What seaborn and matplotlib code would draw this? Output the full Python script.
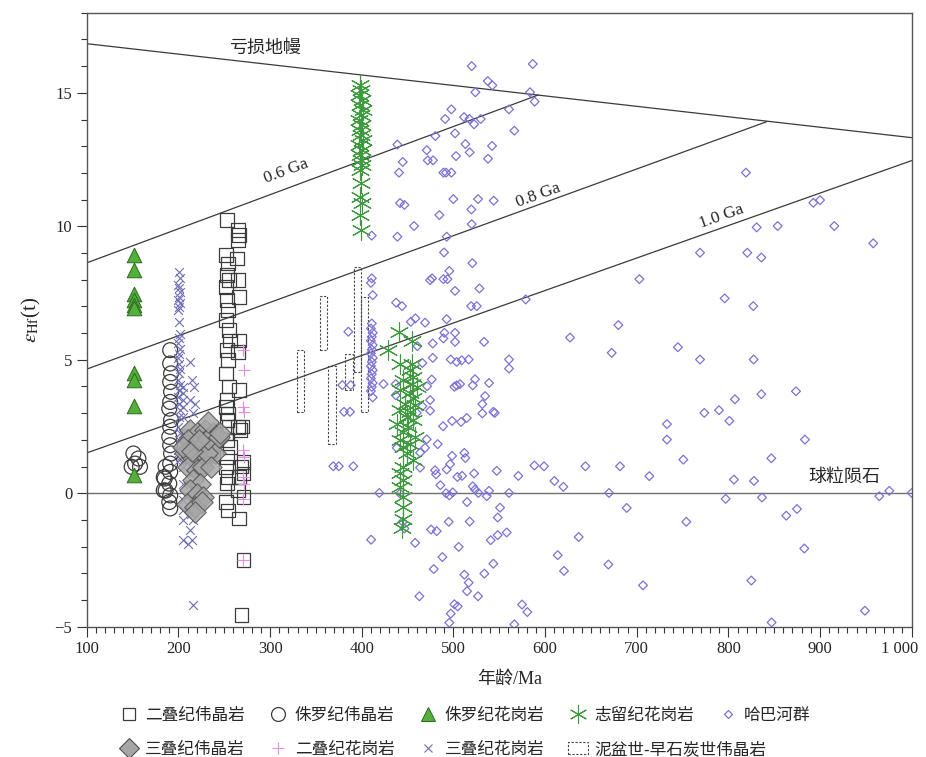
import numpy as np
import matplotlib
matplotlib.use("Agg")
import matplotlib.pyplot as plt
import seaborn as sns
from matplotlib.lines import Line2D
from matplotlib.patches import Patch
from matplotlib.font_manager import FontProperties
from matplotlib.transforms import ScaledTranslation

# ---- reference lines (age Ma, eHf) ----
dm_age = [100, 1000]
dm_eps = [16.84, 13.32]
ga06_age = [100, 592.7]
ga06_eps = [8.63, 14.92]
ga08_age = [100, 842]
ga08_eps = [4.65, 13.92]
ga10_age = [100, 1000]
ga10_eps = [1.51, 12.46]

# ---- 二叠纪伟晶岩 (squares) ----
perm_peg_age = [253, 252, 254, 253, 255, 252, 253, 254, 252, 255, 256, 253, 254, 252, 255,
                253, 252, 254, 253, 255, 252, 253, 256, 253, 252, 254, 253, 252, 254,
                265, 266, 265, 264, 265, 266, 266, 265, 266, 265, 267, 266, 265, 266, 269,
                271, 271, 271, 271, 270, 269]
perm_peg_eps = [10.23, 8.92, 8.61, 8.17, 7.98, 7.73, 7.23, 6.86, 6.48, 6.11, 5.73, 5.36, 4.99, 4.49, 3.99,
                3.49, 3.24, 2.99, 2.74, 2.49, 2.24, 1.99, 1.74, 1.36, 0.99, 0.61, 0.36, -0.32, -0.64,
                9.86, 9.67, 9.48, 8.80, 7.98, 7.36, 5.73, 5.30, 3.86, 2.49, 2.36, 0.61, 0.11, -0.95, -4.57,
                1.17, 0.74, -0.14, -2.50, 2.50, 1.00]

# ---- 侏罗纪伟晶岩 (circles) ----
jur_peg_age = [150.9, 156.3, 152.7, 158.1, 149.0,
               191, 191, 192, 191, 192, 191, 190, 192, 191, 190, 191, 192, 191, 186, 191,
               185, 190, 184, 191, 190, 191, 184, 186]
jur_peg_eps = [1.49, 1.30, 1.11, 0.99, 0.99,
               5.36, 4.86, 4.49, 4.17, 3.80, 3.42, 3.17, 2.74, 2.49, 2.11, 1.80, 1.49, 1.11, 0.99, 0.80,
               0.55, 0.36, 0.11, -0.08, -0.33, -0.57, 0.60, 0.10]

# ---- 侏罗纪花岗岩 (triangles) ----
jur_gra_age = [152, 152, 152, 152, 152, 152, 152, 152, 152, 152]
jur_gra_eps = [8.92, 8.36, 7.45, 7.25, 7.05, 6.95, 4.49, 4.24, 3.26, 0.67]

# ---- 志留纪花岗岩 (asterisks) ----
sil_gra_age = [398, 399, 397, 400, 398, 401, 399, 397, 400, 398, 399, 401, 397, 400, 398,
               399, 400, 398, 399, 398, 400, 398, 399,
               441.1, 455.3, 429.1, 441.8, 454.6, 452.7, 456.4, 445.5, 454.6, 460.0, 441.8, 452.7,
               456.4, 447.3, 458.2, 441.8, 452.7, 449.1, 438.2, 456.4, 450.9, 445.5, 458.2, 441.8,
               452.7, 445.5, 449.1, 456.4, 445.5, 441.8, 445.5, 441.8, 445.5, 445.5, 445.5, 443.7]
sil_gra_eps = [15.29, 15.10, 14.92, 14.73, 14.54, 14.36, 14.17, 13.98, 13.79, 13.61, 13.42, 13.23, 13.04, 12.86, 12.67,
               12.48, 12.29, 12.11, 11.61, 11.11, 10.86, 10.42, 9.86,
               6.05, 5.71, 5.36, 4.86, 4.86, 4.61, 4.36, 4.23, 4.11, 3.99, 3.86, 3.74,
               3.55, 3.36, 3.30, 3.11, 3.05, 2.86, 2.61, 2.74, 2.49, 2.30, 2.11, 1.99,
               1.86, 1.74, 1.49, 1.24, 0.99, 0.74, 0.49, 0.24, -0.14, -0.51, -0.95, -1.32]

# ---- 三叠纪伟晶岩 (grey diamonds) ----
tri_peg_age = [212.7, 220.0, 229.0, 238.1, 241.8, 210.9, 218.1, 225.4, 234.5, 207.2, 214.5, 223.6,
               230.9, 240.0, 210.9, 220.0, 227.2, 216.3, 223.6, 212.7, 220.0, 227.2, 209.1, 218.1,
               225.4, 230.9, 205.4, 232.7, 236.0, 215.0, 222.0, 244.0, 232.7, 245.4, 218.0]
tri_peg_eps = [2.36, 2.24, 2.36, 2.24, 1.99, 1.99, 1.80, 1.80, 1.67, 1.49, 1.36, 1.24,
               1.36, 1.49, 0.99, 0.86, 0.99, 0.49, 0.36, 0.11, -0.01, -0.14, -0.39, -0.51,
               -0.32, 1.49, 1.74, 2.05, 1.00, 1.60, 2.00, 2.10, 2.67, 2.24, -0.70]

# ---- 二叠纪花岗岩 (plus) ----
perm_gra_age = [271, 272, 271, 272, 271, 272, 271, 272, 271, 271]
perm_gra_eps = [5.36, 4.61, 3.24, 3.05, 1.61, 1.36, 0.61, 0.36, -0.20, -2.51]

# ---- 三叠纪花岗岩 (x) ----
tri_gra_age = [201, 202, 200, 201, 202, 201, 200, 202, 201, 200, 201, 202, 201, 200, 202, 201,
               200, 201, 202, 201, 200, 202, 201, 200, 201, 202, 201, 200, 202, 201, 200, 201,
               205.4, 205.4, 205.4, 205.4, 205.4, 205.4, 205.4, 205.4, 205.4, 205.4, 205.4, 205.4, 205.4,
               213, 215, 217, 213, 218, 216, 214, 216, 213, 215, 210, 216.3]
tri_gra_eps = [8.30, 8.05, 7.80, 7.67, 7.55, 7.36, 7.23, 7.11, 6.98, 6.86, 6.42, 5.98, 5.80, 5.61, 5.42, 5.23,
               5.05, 4.86, 4.67, 4.49, 4.24, 4.05, 3.86, 3.61, 3.36, 3.11, 2.86, 2.49, 2.24, 1.99, 1.61, 1.24,
               3.99, 3.74, 3.49, 3.24, 2.86, 2.24, 1.61, 0.99, 0.36, -0.26, -0.64, -1.01, -1.76,
               4.92, 4.24, 3.99, 3.49, 3.36, 2.99, -0.76, -1.01, -1.39, -1.76, -1.89, -4.20]

# ---- 泥盆世-早石炭世伟晶岩 (dashed ranges) ----
dev_age_lo = [329.0, 354.5, 363.6, 382.1, 391.6, 399.2]
dev_age_hi = [337.0, 362.5, 371.6, 390.2, 398.9, 407.2]
dev_eps_lo = [3.05, 5.36, 1.86, 3.86, 4.55, 3.05]
dev_eps_hi = [5.36, 7.38, 4.76, 5.20, 8.46, 7.36]

# ---- 哈巴河群 (small diamonds) ----
haba_age = [385.4, 378.8, 388.0, 380.7, 387.2, 369.0, 375.0, 390.8, 419.2, 410.2,
            411, 410, 412, 411, 410, 412, 411, 410, 412, 411, 410, 412, 411, 410, 412, 411, 410, 412, 411, 410, 412,
            520.0, 586.6, 537.5, 542.5, 524.0, 583.6, 588.7, 497.8, 560.7, 491.0, 511.6, 517.5, 529.8, 522.6,
            566.5, 480.4, 501.8, 438.9, 470.9, 513.1, 542.2, 517.8, 444.7, 472.0, 477.8, 502.9, 537.8, 440.7,
            489.1, 492.0, 497.8, 441.8, 446.6, 500.0, 526.9, 544.0, 484.7, 519.6, 457.1, 520.0, 410.9, 438.9,
            492.7, 489.8, 520.7, 474.6, 476.7, 489.1, 493.5, 495.6, 501.8, 528.4, 437.5, 444.0, 519.3, 525.5,
            578.9, 453.5, 458.6, 469.1, 492.7,
            490.2, 501.8, 489.1, 501.8, 477.5, 533.5, 627.3, 460.7, 477.5, 466.2, 497.1, 503.6, 509.1, 516.7,
            560.7, 560.7, 523.6, 538.9, 476.4, 471.3, 501.1, 503.6, 507.3, 521.1, 423.7, 437.1, 437.1, 534.6,
            474.6, 531.6, 531.6, 543.6, 545.1, 466.2, 474.6, 460.0, 498.6, 508.4, 514.6, 488.7, 470.9, 438.2,
            482.9, 463.7, 469.1, 498.6, 512.0, 513.1, 463.7, 480.0, 481.1, 492.7, 496.4, 504.4, 509.5, 522.6,
            547.3, 570.9, 588.4, 598.9, 610.2, 620.0, 485.8, 521.1, 523.6, 492.0, 495.6, 499.3, 527.3, 536.4,
            538.9, 560.7, 441.8, 514.9, 550.9, 548.4, 444.7, 446.6, 494.9, 517.8, 475.7, 481.8, 558.2, 548.4,
            540.7, 458.2, 505.8, 636.7, 488.0, 613.8, 478.6, 543.6, 533.8, 620.7, 512.0, 516.7, 514.9, 526.9,
            462.9, 501.1, 504.7, 574.9, 580.7, 497.1, 495.6, 566.5,
            819.2, 892.7, 900.0, 830.9, 853.8, 915.6, 958.1, 769.1, 820.7, 836.0, 702.9, 796.0, 827.2, 680.0,
            672.7, 745.0, 769.1, 827.6, 873.8, 836.0, 807.2, 773.8, 789.8, 801.1, 733.0, 733.0, 883.6, 846.9,
            750.9, 644.0, 681.8, 713.8, 806.1, 828.0, 669.8, 797.1, 836.7, 964.7, 975.6, 1000.0, 689.1, 863.2,
            874.9, 754.1, 882.9, 669.1, 706.9, 825.1, 949.0, 847.2]
haba_eps = [6.05, 4.05, 4.05, 3.05, 3.05, 1.01, 1.01, 1.01, 0.01, -1.74,
            8.05, 7.88, 7.42, 6.36, 6.17, 6.01, 5.86, 5.71, 5.55, 5.38, 5.24, 5.07, 4.92, 4.76, 4.61, 4.46, 4.30, 4.13, 3.98, 3.83, 3.59,
            16.00, 16.08, 15.44, 15.28, 15.02, 15.02, 14.67, 14.38, 14.38, 14.02, 14.09, 14.02, 14.02, 13.82,
            13.58, 13.38, 13.48, 13.06, 12.85, 13.08, 13.01, 12.77, 12.41, 12.47, 12.47, 12.63, 12.53, 12.01,
            12.01, 12.01, 12.01, 10.87, 10.80, 11.02, 11.02, 10.96, 10.42, 10.63, 10.01, 10.08, 9.65, 9.61,
            9.61, 9.02, 8.62, 7.98, 8.05, 8.02, 8.02, 8.33, 7.58, 7.67, 7.14, 7.01, 7.01, 7.01,
            7.26, 6.42, 6.55, 6.39, 6.52,
            6.01, 6.01, 5.80, 5.67, 5.61, 5.67, 5.83, 5.51, 5.07, 4.88, 5.01, 4.92, 4.98, 5.01,
            5.01, 4.67, 4.27, 4.13, 4.26, 4.01, 3.99, 4.04, 4.09, 4.04, 4.09, 4.09, 3.67, 3.64,
            3.49, 3.34, 2.99, 3.05, 3.01, 3.26, 3.09, 3.01, 2.71, 2.67, 2.82, 2.51, 2.02, 1.70,
            1.84, 1.52, 1.70, 1.40, 1.51, 1.32, 0.96, 0.86, 0.71, 0.89, 1.09, 0.61, 0.65, 0.74,
            0.84, 0.65, 1.04, 1.01, 0.46, 0.24, 0.30, 0.26, 0.14, 0.00, -0.08, 0.03, 0.01, -0.11,
            0.09, 0.01, -0.01, -0.33, -0.54, -0.91, -1.07, -1.32, -1.07, -1.06, -1.36, -1.42, -1.47, -1.57,
            -1.76, -1.86, -2.01, -1.64, -2.39, -2.32, -2.84, -2.64, -3.01, -2.91, -3.05, -3.35, -3.67, -3.86,
            -3.86, -4.16, -4.24, -4.17, -4.45, -4.51, -4.85, -4.91,
            12.01, 10.88, 10.98, 9.96, 10.01, 10.01, 9.36, 9.01, 9.01, 8.83, 8.02, 7.30, 7.01, 6.30,
            5.26, 5.47, 5.01, 5.01, 3.82, 3.71, 3.52, 3.01, 3.11, 2.71, 2.59, 2.01, 2.01, 1.31,
            1.26, 1.01, 1.01, 0.64, 0.51, 0.46, 0.01, -0.21, -0.16, -0.11, 0.09, 0.01, -0.55, -0.84,
            -0.59, -1.07, -2.07, -2.67, -3.45, -3.27, -4.40, -4.84]

x_ticks = [100, 200, 300, 400, 500, 600, 700, 800, 900, 1000]
x_tick_labels = ["100", "200", "300", "400", "500", "600", "700", "800", "900", "1 000"]
y_ticks = [-5, 0, 5, 10, 15]

sns.set_style("ticks")
plt.rcParams["font.family"] = ["Liberation Serif", "Noto Sans CJK SC"]
plt.rcParams["mathtext.fontset"] = "stix"

fig, ax = plt.subplots(figsize=(9.26, 7.57), dpi=100)
fig.subplots_adjust(left=0.0937, right=0.9845, bottom=0.1721, top=0.9832)
ax.set_xlim(100, 1000)
ax.set_ylim(-5, 18)

line_kw = dict(color="#3a3a3a", lw=0.9, zorder=1)
ax.plot(dm_age, dm_eps, **line_kw)
ax.plot(ga06_age, ga06_eps, **line_kw)
ax.plot(ga08_age, ga08_eps, **line_kw)
ax.plot(ga10_age, ga10_eps, **line_kw)
ax.axhline(0, color="#707070", lw=1.0, zorder=1)

# dashed ranges
ax.bar(x=[(a + b) / 2 for a, b in zip(dev_age_lo, dev_age_hi)],
       height=[h - l for l, h in zip(dev_eps_lo, dev_eps_hi)],
       bottom=dev_eps_lo,
       width=[b - a for a, b in zip(dev_age_lo, dev_age_hi)],
       facecolor="none", edgecolor="#444444", linestyle=(0, (2, 1.5)), linewidth=0.8, zorder=2)

haba_c = "#7b72d6"
sns.scatterplot(x=haba_age, y=haba_eps, marker="D", s=20, facecolor="none",
                edgecolor=haba_c, linewidth=0.9, ax=ax, zorder=3)
ast_c = "#3f9a3f"
sns.scatterplot(x=sil_gra_age, y=sil_gra_eps, marker=(6, 2, 0), s=190, color=ast_c,
                linewidth=0.8, ax=ax, zorder=4)
sns.scatterplot(x=perm_peg_age, y=perm_peg_eps, marker="s", s=95, facecolor="none",
                edgecolor="#3c3c3c", linewidth=0.9, ax=ax, zorder=5)
sns.scatterplot(x=jur_peg_age, y=jur_peg_eps, marker="o", s=115, facecolor="none",
                edgecolor="#3c3c3c", linewidth=0.9, ax=ax, zorder=5)
sns.scatterplot(x=jur_gra_age, y=jur_gra_eps, marker="^", s=110, facecolor="#55b03a",
                edgecolor="#2a6a1f", linewidth=0.7, ax=ax, zorder=5)
x_c = "#6e6eb4"
sns.scatterplot(x=tri_gra_age, y=tri_gra_eps, marker="x", s=40, color=x_c,
                linewidth=0.8, ax=ax, zorder=5)
sns.scatterplot(x=tri_peg_age, y=tri_peg_eps, marker="D", s=120, facecolor="#a6a6a6",
                edgecolor="#505050", linewidth=0.8, alpha=0.85, ax=ax, zorder=6)
plus_c = "#e28ee0"
sns.scatterplot(x=perm_gra_age, y=perm_gra_eps, marker="+", s=80, color=plus_c,
                linewidth=0.8, ax=ax, zorder=7)

# labels on reference lines
def angle(xs, ys):
    p0 = ax.transData.transform((xs[0], ys[0]))
    p1 = ax.transData.transform((xs[1], ys[1]))
    return np.degrees(np.arctan2(p1[1] - p0[1], p1[0] - p0[0]))

ax.text(294.6, 16.65, "亏损地幔", fontsize=13, ha="center", va="center")
ax.text(317.5, 12.05, "0.6 Ga", fontsize=12.5, ha="center", va="center",
        rotation=angle(ga06_age, ga06_eps), rotation_mode="anchor")
ax.text(592.7, 11.17, "0.8 Ga", fontsize=12.5, ha="center", va="center",
        rotation=angle(ga08_age, ga08_eps), rotation_mode="anchor")
ax.text(792.7, 10.36, "1.0 Ga", fontsize=12.5, ha="center", va="center",
        rotation=angle(ga10_age, ga10_eps), rotation_mode="anchor")
ax.text(927, 0.6, "球粒陨石", fontsize=13, ha="center", va="center")

ax.set_xticks(x_ticks)
ax.set_xticklabels(x_tick_labels)
ax.set_xticks(np.arange(100, 1001, 10), minor=True)
ax.set_yticks(y_ticks)
ax.set_yticks(np.arange(-5, 19, 1), minor=True)
ax.tick_params(axis="both", which="major", direction="out", length=7, width=0.8,
               labelsize=12, color="#333333")
ax.tick_params(axis="both", which="minor", direction="out", length=4.5, width=0.8,
               color="#333333")
# the "1 000" label sits a little left of its tick in the reference
last = ax.get_xticklabels()[-1]
last.set_transform(last.get_transform() + ScaledTranslation(-0.12, 0, fig.dpi_scale_trans))
for sp in ax.spines.values():
    sp.set_visible(True)
    sp.set_color("#555555")
    sp.set_linewidth(1.0)

ax.set_xlabel("年龄/Ma", fontsize=13)
ax.xaxis.set_label_coords(0.513, -0.072)
ax.set_ylabel(r"$\varepsilon_{\mathrm{Hf}}$(t)", fontsize=15, labelpad=8)

# legends (two rows)
cjk = FontProperties(family=["Noto Sans CJK SC"], size=12)
row1 = [
    (Line2D([], [], marker="s", ls="none", ms=9, mfc="none", mec="#3c3c3c", mew=0.9), "二叠纪伟晶岩"),
    (Line2D([], [], marker="o", ls="none", ms=10, mfc="none", mec="#3c3c3c", mew=0.9), "侏罗纪伟晶岩"),
    (Line2D([], [], marker="^", ls="none", ms=10, mfc="#55b03a", mec="#2a6a1f", mew=0.7), "侏罗纪花岗岩"),
    (Line2D([], [], marker=(6, 2, 0), ls="none", ms=13, color=ast_c, mew=0.8), "志留纪花岗岩"),
    (Line2D([], [], marker="D", ls="none", ms=4, mfc="none", mec=haba_c, mew=0.9), "哈巴河群"),
]
row2 = [
    (Line2D([], [], marker="D", ls="none", ms=10, mfc="#a6a6a6", mec="#505050", mew=0.8), "三叠纪伟晶岩"),
    (Line2D([], [], marker="+", ls="none", ms=9, color=plus_c, mew=0.8), "二叠纪花岗岩"),
    (Line2D([], [], marker="x", ls="none", ms=6, color=x_c, mew=0.8), "三叠纪花岗岩"),
    (Patch(facecolor="none", edgecolor="#444444", linestyle=(0, (2, 1.5)), linewidth=0.8), "泥盆世-早石炭世伟晶岩"),
]
leg_kw = dict(frameon=False, prop=cjk, handlelength=1.2, handletextpad=0.4,
              columnspacing=1.4, borderpad=0, borderaxespad=0, loc="upper left")
fig.legend([h for h, _ in row1], [t for _, t in row1], ncol=5,
           bbox_to_anchor=(0.128, 0.066), **leg_kw)
fig.legend([h for h, _ in row2], [t for _, t in row2], ncol=4,
           bbox_to_anchor=(0.128, 0.021), **leg_kw)

fig.savefig("out.png", dpi=100)
